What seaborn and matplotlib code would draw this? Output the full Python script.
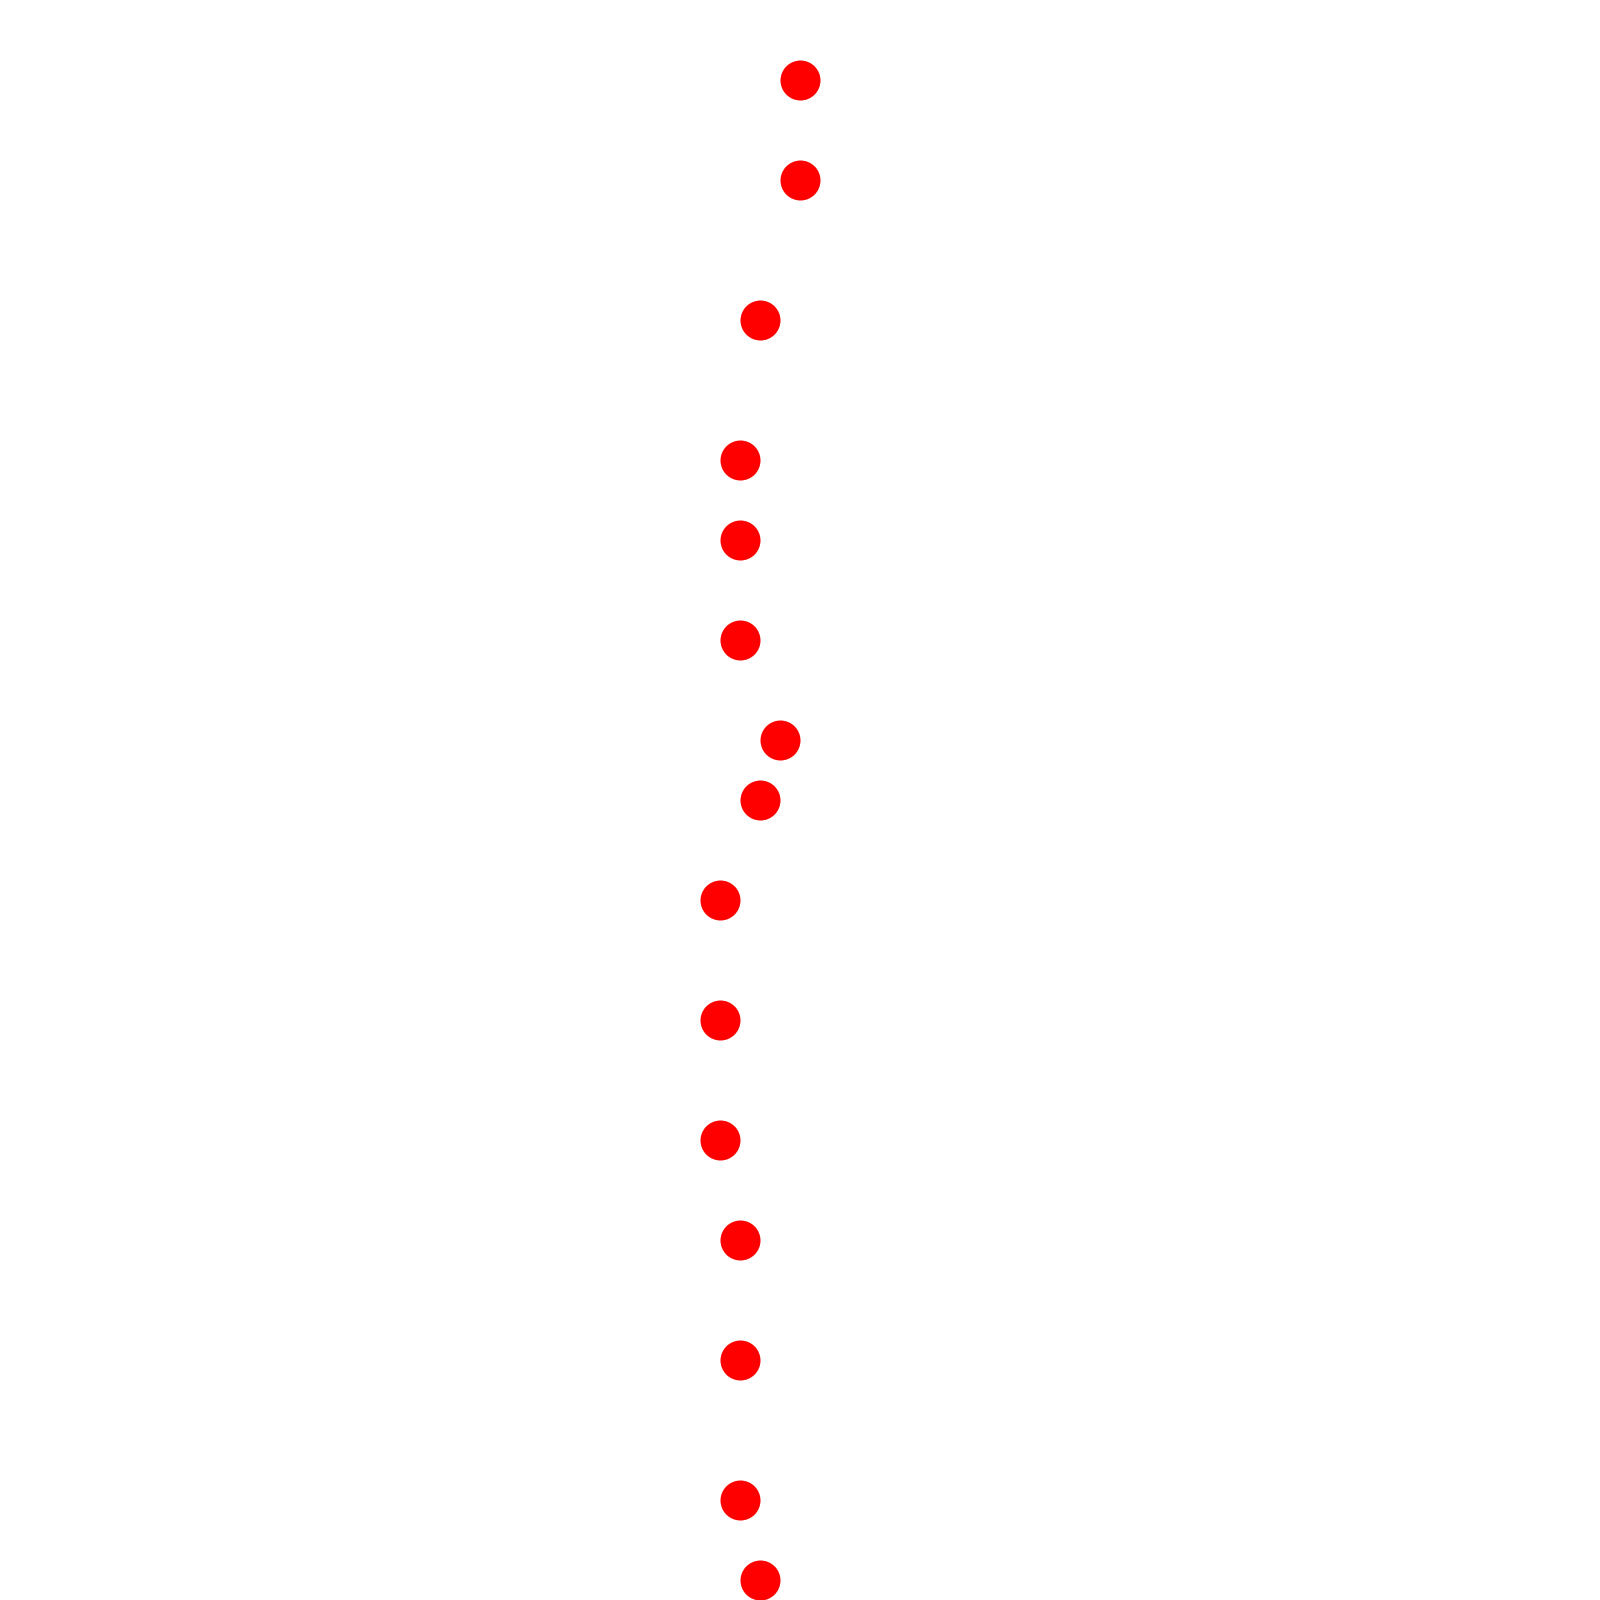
import pandas as pd
import matplotlib
matplotlib.use("Agg")
import matplotlib.pyplot as plt
import seaborn as sns

# posições (eixo y cresce para baixo)
pos_x = [800, 800, 760, 740, 740, 740, 780, 760, 720, 720, 720, 740, 740, 740, 760]
pos_y = [80, 180, 320, 460, 540, 640, 740, 800, 900, 1020, 1140, 1240, 1360, 1500, 1580]

df = pd.DataFrame({"x": pos_x, "y": pos_y})

fig = plt.figure(figsize=(16, 16), dpi=100)
ax = fig.add_axes([0, 0, 1, 1])
# diâmetro ~40 px -> 28.8 pt
sns.scatterplot(x="x", y="y", data=df, ax=ax, color="#ff0000", s=28.8 ** 2,
                linewidth=0, legend=False)
ax.set_xlim(0, 1600)
ax.set_ylim(1600, 0)
ax.axis("off")
fig.savefig("out.png", dpi=100, facecolor="white")
